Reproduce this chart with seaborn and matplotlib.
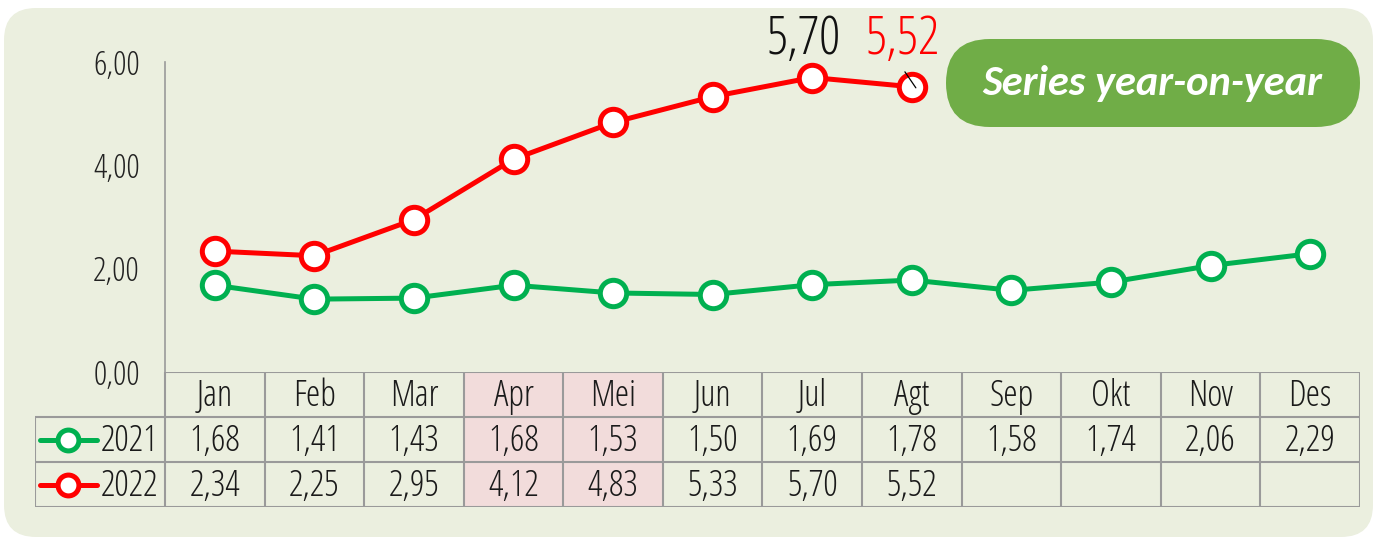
import numpy as np
import pandas as pd
import seaborn as sns
import matplotlib.pyplot as plt
from matplotlib.patches import FancyBboxPatch, Rectangle

months = ["Jan", "Feb", "Mar", "Apr", "Mei", "Jun", "Jul", "Agt", "Sep", "Okt", "Nov", "Des"]
vals_2021 = [1.68, 1.41, 1.43, 1.68, 1.53, 1.50, 1.69, 1.78, 1.58, 1.74, 2.06, 2.29]
vals_2022 = [2.34, 2.25, 2.95, 4.12, 4.83, 5.33, 5.70, 5.52]
years = ["2021", "2022"]
highlight = ["Apr", "Mei"]
yticks = [0, 2, 4, 6]

GREEN = "#00B050"
RED = "#FF0000"
BG = "#EBEFDF"
GRID = "#9A9A9A"
FONT = ["Open Sans", "DejaVu Sans"]

W, H = 1377, 541
fig = plt.figure(figsize=(W / 100, H / 100), dpi=100)
fig.patch.set_facecolor("white")
plt.rcParams["font.family"] = FONT
plt.rcParams["font.stretch"] = "condensed"
plt.rcParams["font.weight"] = "light"

# rounded background panel (pixel coords), drawn below the axes
fig.patches.append(FancyBboxPatch((4, 4), W - 8, H - 12, boxstyle="round,pad=0,rounding_size=32",
                                  transform=None, fc=BG, ec="none", zorder=-5))

col_w = (1360 - 165) / 12
ax = fig.add_axes([165 / W, 1 - 372 / H, (1360 - 165) / W, (372 - 62) / H])
ax.set_facecolor("none")

df = pd.DataFrame({
    "month": months + months[:len(vals_2022)],
    "value": vals_2021 + vals_2022,
    "year": ["2021"] * len(vals_2021) + ["2022"] * len(vals_2022),
})

for yr, c in zip(years, [GREEN, RED]):
    sub = df[df["year"] == yr]
    sns.lineplot(data=sub, x="month", y="value", sort=False, ax=ax, color=c, lw=3.6,
                 marker="o", markersize=19, mfc="white", mec=c, mew=3.6, clip_on=False, zorder=3)

ax.set_xlim(-0.5, 11.5)
ax.set_ylim(0, 6)
ax.set_yticks(yticks)
ax.set_yticklabels([f"{v:.2f}".replace(".", ",") for v in yticks], fontsize=24, color="#222222")
ax.tick_params(axis="y", length=0, pad=18)
ax.set_xticks([])
ax.set_xlabel("")
ax.set_ylabel("")
for s in ["top", "right", "bottom"]:
    ax.spines[s].set_visible(False)
ax.spines["left"].set_color(GRID)
ax.spines["left"].set_linewidth(1.2)

# value callouts
ax.text(6 - 0.09, 6.42, "5,70", fontsize=38, color="#111111", ha="center", va="center")
ax.text(7 - 0.09, 6.42, "5,52", fontsize=38, color=RED, ha="center", va="center")
ax.annotate("", xy=(7.04, 5.50), xytext=(6.93, 5.81),
            arrowprops=dict(arrowstyle="-", color="black", lw=0.9, shrinkA=0, shrinkB=0))

# badge
fig.patches.append(FancyBboxPatch((946, H - 127), 414, 88, boxstyle="round,pad=0,rounding_size=44",
                                  transform=None, fc="#70AD47", ec="none", zorder=1))
fig.text(1152 / W, 1 - 84 / H, "Series year-on-year", fontsize=30.5, color="white", fontweight="bold",
         fontstyle="italic", fontstretch="normal", family=["Carlito", "Lato", "DejaVu Sans"],
         ha="center", va="center")

# data table
lab_w = (165 - 35) / col_w
tx = fig.add_axes([35 / W, 1 - 507 / H, (1360 - 35) / W, (507 - 372) / H])
tx.set_xlim(-0.5 - lab_w, 11.5)
tx.set_ylim(3, 0)
tx.axis("off")

for m in highlight:
    i = months.index(m)
    tx.add_patch(Rectangle((i - 0.5, 0), 1, 3, fc="#F2DCDB", ec="none", zorder=0))

lkw = dict(color=GRID, lw=1.5, zorder=1)
tx.hlines(0, -0.5, 11.5, **lkw)
tx.hlines([1, 2, 3], -0.5 - lab_w, 11.5, **lkw)
tx.vlines(-0.5 - lab_w, 1, 3, **lkw)
tx.vlines(np.arange(13) - 0.5, 0, 3, **lkw)

TFS = 26
for i, m in enumerate(months):
    tx.text(i, 0.54, m, fontsize=TFS, ha="center", va="center", color="#1a1a1a")
for r, (vals, c, yr) in enumerate(zip([vals_2021, vals_2022], [GREEN, RED], years), start=1):
    for i, v in enumerate(vals):
        tx.text(i, r + 0.55, f"{v:.2f}".replace(".", ","), fontsize=TFS, ha="center", va="center",
                color="#1a1a1a")
    x0 = -0.5 - lab_w
    tx.plot([x0 + 0.05, x0 + 0.62], [r + 0.5, r + 0.5], color=c, lw=3.6, solid_capstyle="round")
    tx.plot([x0 + 0.33], [r + 0.5], marker="o", ms=15, mfc="white", mec=c, mew=3.6)
    tx.text(-0.57, r + 0.55, yr, fontsize=TFS, ha="right", va="center", color="#1a1a1a")

fig.savefig("out.png", dpi=100, facecolor="white")
